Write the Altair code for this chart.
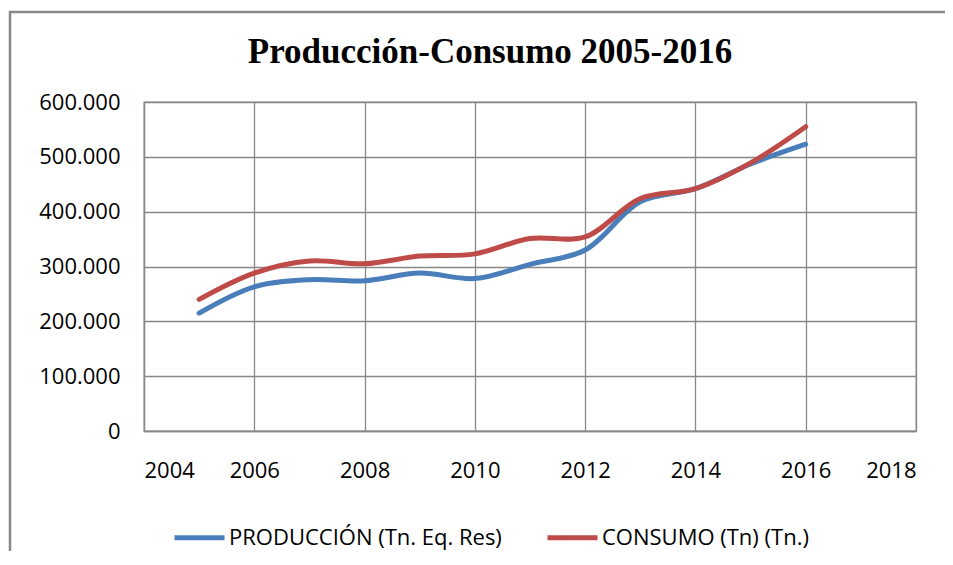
import altair as alt
import pandas as pd

years = [2005, 2006, 2007, 2008, 2009, 2010, 2011, 2012, 2013, 2014, 2015, 2016]
produccion = [215000, 263000, 276000, 274000, 288000, 278000, 304000, 330000, 418000, 442000, 487000, 523000]
consumo = [240000, 288000, 310000, 305000, 319000, 323000, 351000, 354000, 424000, 442000, 489000, 555000]
series_names = ["PRODUCCIÓN (Tn. Eq. Res)", "CONSUMO (Tn) (Tn.)"]
series_colors = ["#4a7ebb", "#be4b48"]
x_ticks = [2004, 2006, 2008, 2010, 2012, 2014, 2016, 2018]
y_ticks = [0, 100000, 200000, 300000, 400000, 500000, 600000]
title_text = "Producción-Consumo 2005-2016"

rows = []
for name, vals in zip(series_names, [produccion, consumo]):
    for yr, v in zip(years, vals):
        rows.append({"year": yr, "value": v, "series": name})
df = pd.DataFrame(rows)

GRID = "#888888"
FONT = "Open Sans"

lines = alt.Chart(df).mark_line(
    strokeWidth=5, interpolate="catmull-rom", strokeCap="round"
).encode(
    x=alt.X("year:Q", scale=alt.Scale(domain=[2004, 2018], nice=False),
            axis=alt.Axis(values=x_ticks, format="d", title=None, grid=True,
                          gridColor=GRID, gridWidth=1.3, ticks=False,
                          domainColor=GRID, domainWidth=1.3,
                          labelFont=FONT, labelFontSize=22, labelColor="black",
                          labelPadding=29)),
    y=alt.Y("value:Q", scale=alt.Scale(domain=[0, 600000], nice=False),
            axis=alt.Axis(values=y_ticks, title=None, grid=True,
                          gridColor=GRID, gridWidth=1.3, ticks=False,
                          domainColor=GRID, domainWidth=1.3,
                          labelExpr="datum.value == 0 ? '0' : format(datum.value/1000, 'd') + '.000'",
                          labelFont=FONT, labelFontSize=22, labelColor="black",
                          labelPadding=24)),
    color=alt.Color("series:N", sort=series_names,
                    scale=alt.Scale(domain=series_names, range=series_colors),
                    legend=alt.Legend(title=None, orient="none", legendX=28, legendY=408,
                                      direction="horizontal", symbolType="stroke",
                                      symbolSize=2500, symbolStrokeWidth=5,
                                      labelFont=FONT, labelFontSize=22, labelColor="black",
                                      labelOffset=2, columnPadding=35, padding=0,
                                      labelLimit=400)),
)

border = alt.Chart(pd.DataFrame({"a": [0]})).mark_rect(
    fill=None, stroke=GRID, strokeWidth=2.5
).encode(
    x=alt.value(-134), x2=alt.value(1200), y=alt.value(-90), y2=alt.value(1000)
)

chart = alt.layer(border, lines).properties(
    width=772, height=329,
    title=alt.TitleParams(title_text, font="Liberation Serif", fontSize=35,
                          fontWeight="bold", anchor="middle", dx=-40, frame="group",
                          baseline="alphabetic", offset=-87, color="black"),
    autosize=alt.AutoSizeParams(type="none"),
    padding={"left": 136, "top": 94, "right": 29, "bottom": 120},
).configure_view(stroke=GRID, strokeWidth=1.3)

chart.save("out.html", embed_options={"renderer": "svg", "actions": False})
